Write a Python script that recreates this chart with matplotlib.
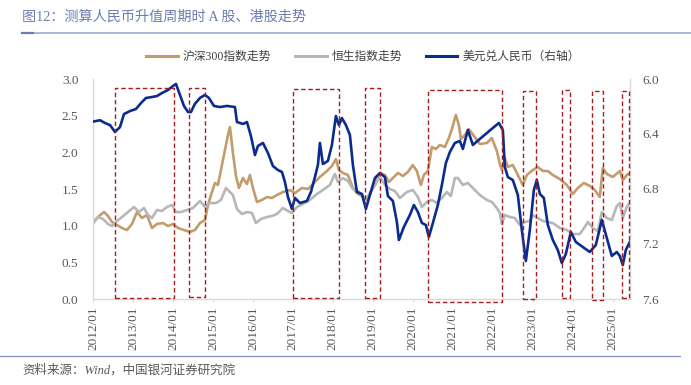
import matplotlib
matplotlib.use("Agg")
import matplotlib.pyplot as plt
from matplotlib.patches import Rectangle
from matplotlib.lines import Line2D
from matplotlib.font_manager import FontProperties
import numpy as np

# ---------------- data ----------------
usd_t = [2012.0, 2012.175, 2012.3, 2012.425, 2012.55, 2012.675, 2012.775, 2012.925, 2013.075, 2013.2,
         2013.325, 2013.475, 2013.6, 2013.725, 2013.875, 2014.0, 2014.075, 2014.175, 2014.275, 2014.375,
         2014.45, 2014.55, 2014.675, 2014.8, 2014.9, 2015.025, 2015.175, 2015.35, 2015.55, 2015.6,
         2015.75, 2015.85, 2015.95, 2016.05, 2016.125, 2016.25, 2016.375, 2016.5, 2016.625, 2016.725,
         2016.8, 2016.875, 2016.975, 2017.05, 2017.175, 2017.35, 2017.45, 2017.55, 2017.625, 2017.675,
         2017.75, 2017.875, 2017.975, 2018.075, 2018.15, 2018.225, 2018.325, 2018.425, 2018.5, 2018.6,
         2018.725, 2018.825, 2018.925, 2019.05, 2019.175, 2019.3, 2019.375, 2019.5, 2019.6, 2019.65,
         2019.775, 2019.925, 2020.025, 2020.125, 2020.225, 2020.325, 2020.4, 2020.5, 2020.625, 2020.725,
         2020.825, 2020.925, 2021.05, 2021.175, 2021.25, 2021.375, 2021.5, 2021.675, 2021.85, 2022.0,
         2022.15, 2022.25, 2022.3, 2022.375, 2022.5, 2022.625, 2022.725, 2022.825, 2022.925, 2023.025,
         2023.1, 2023.175, 2023.275, 2023.375, 2023.5, 2023.625, 2023.725, 2023.825, 2023.95, 2024.075,
         2024.25, 2024.425, 2024.575, 2024.725, 2024.85, 2024.975, 2025.1, 2025.175, 2025.25, 2025.325,
         2025.425]
usd_cny = [6.31, 6.30, 6.32, 6.335, 6.385, 6.35, 6.255, 6.233, 6.218, 6.175,
           6.138, 6.131, 6.124, 6.102, 6.08, 6.051, 6.036, 6.116, 6.196, 6.24,
           6.24, 6.18, 6.138, 6.116, 6.138, 6.196, 6.204, 6.196, 6.204, 6.313,
           6.327, 6.313, 6.415, 6.553, 6.487, 6.465, 6.538, 6.633, 6.662, 6.676,
           6.749, 6.858, 6.945, 6.865, 6.902, 6.887, 6.822, 6.713, 6.625, 6.465,
           6.618, 6.596, 6.48, 6.269, 6.335, 6.284, 6.335, 6.407, 6.625, 6.822,
           6.836, 6.945, 6.844, 6.72, 6.684, 6.713, 6.851, 6.887, 7.04, 7.171,
           7.076, 6.989, 6.916, 6.967, 7.047, 7.062, 7.149, 7.047, 6.916, 6.771,
           6.611, 6.531, 6.465, 6.451, 6.509, 6.371, 6.48, 6.436, 6.393, 6.356,
           6.32, 6.371, 6.64, 6.713, 6.735, 6.844, 7.098, 7.324, 7.098, 6.807,
           6.735, 6.836, 6.865, 7.062, 7.171, 7.244, 7.338, 7.273, 7.113, 7.185,
           7.222, 7.258, 7.207, 7.025, 7.156, 7.287, 7.258, 7.287, 7.353, 7.244,
           7.185]

csi_t = [2012.0, 2012.125, 2012.275, 2012.375, 2012.475, 2012.6, 2012.725, 2012.85, 2012.975, 2013.1,
         2013.225, 2013.35, 2013.475, 2013.6, 2013.75, 2013.875, 2014.0, 2014.125, 2014.275, 2014.425,
         2014.55, 2014.675, 2014.8, 2014.875, 2014.975, 2015.05, 2015.125, 2015.225, 2015.3, 2015.375,
         2015.425, 2015.5, 2015.575, 2015.65, 2015.75, 2015.85, 2015.925, 2016.0, 2016.1, 2016.225,
         2016.35, 2016.475, 2016.6, 2016.75, 2016.925, 2017.05, 2017.225, 2017.375, 2017.5, 2017.675,
         2017.85, 2017.975, 2018.075, 2018.15, 2018.25, 2018.375, 2018.5, 2018.625, 2018.725, 2018.825,
         2018.925, 2019.05, 2019.175, 2019.3, 2019.4, 2019.5, 2019.625, 2019.75, 2019.875, 2020.0,
         2020.1, 2020.2, 2020.275, 2020.375, 2020.475, 2020.575, 2020.675, 2020.8, 2020.9, 2020.975,
         2021.075, 2021.15, 2021.2, 2021.3, 2021.4, 2021.525, 2021.675, 2021.85, 2021.975, 2022.1,
         2022.175, 2022.225, 2022.3, 2022.375, 2022.5, 2022.625, 2022.75, 2022.85, 2023.0, 2023.125,
         2023.25, 2023.375, 2023.5, 2023.675, 2023.85, 2024.0, 2024.125, 2024.275, 2024.425, 2024.55,
         2024.675, 2024.75, 2024.85, 2025.0, 2025.175, 2025.25, 2025.375, 2025.425]
csi300 = [1.05, 1.118, 1.186, 1.132, 1.05, 1.009, 0.968, 0.941, 1.023, 1.186,
          1.105, 1.145, 0.968, 1.023, 1.036, 0.995, 1.023, 0.968, 0.941, 0.914,
          0.941, 1.036, 1.077, 1.282, 1.459, 1.582, 1.555, 1.827, 2.032, 2.236,
          2.345, 1.991, 1.677, 1.514, 1.65, 1.568, 1.691, 1.514, 1.323, 1.35,
          1.391, 1.377, 1.418, 1.459, 1.486, 1.445, 1.514, 1.5, 1.568, 1.664,
          1.745, 1.814, 1.909, 1.759, 1.718, 1.691, 1.514, 1.432, 1.405, 1.35,
          1.432, 1.555, 1.718, 1.691, 1.595, 1.65, 1.718, 1.677, 1.732, 1.827,
          1.745, 1.555, 1.691, 1.745, 2.073, 2.045, 2.1, 2.073, 2.195, 2.318,
          2.509, 2.373, 2.182, 2.236, 2.318, 2.223, 2.114, 2.127, 2.195, 2.018,
          1.841, 1.759, 1.923, 1.8, 1.827, 1.691, 1.555, 1.691, 1.759, 1.8,
          1.745, 1.745, 1.691, 1.636, 1.555, 1.432, 1.514, 1.582, 1.541, 1.486,
          1.391, 1.786, 1.705, 1.664, 1.745, 1.623, 1.705, 1.691]

hsi_t = [2012.0, 2012.125, 2012.25, 2012.375, 2012.475, 2012.6, 2012.725, 2012.875, 2013.025, 2013.15,
         2013.275, 2013.375, 2013.475, 2013.6, 2013.725, 2013.85, 2013.975, 2014.075, 2014.2, 2014.35,
         2014.5, 2014.675, 2014.8, 2014.925, 2015.075, 2015.2, 2015.325, 2015.425, 2015.5, 2015.6,
         2015.725, 2015.85, 2015.975, 2016.075, 2016.2, 2016.35, 2016.475, 2016.6, 2016.75, 2016.875,
         2016.975, 2017.1, 2017.25, 2017.425, 2017.6, 2017.75, 2017.925, 2018.05, 2018.125, 2018.25,
         2018.375, 2018.5, 2018.625, 2018.725, 2018.825, 2018.925, 2019.05, 2019.175, 2019.3, 2019.425,
         2019.55, 2019.675, 2019.85, 2020.0, 2020.125, 2020.225, 2020.35, 2020.475, 2020.6, 2020.725,
         2020.85, 2020.95, 2021.05, 2021.125, 2021.25, 2021.375, 2021.5, 2021.675, 2021.85, 2021.975,
         2022.1, 2022.175, 2022.225, 2022.3, 2022.425, 2022.55, 2022.675, 2022.8, 2022.925, 2023.0,
         2023.125, 2023.25, 2023.375, 2023.5, 2023.675, 2023.85, 2024.0, 2024.175, 2024.3, 2024.375,
         2024.5, 2024.625, 2024.725, 2024.85, 2024.975, 2025.1, 2025.175, 2025.25, 2025.35, 2025.425]
hsi = [1.023, 1.118, 1.091, 1.023, 0.995, 1.064, 1.118, 1.186, 1.255, 1.186,
       1.241, 1.145, 1.105, 1.214, 1.2, 1.255, 1.282, 1.186, 1.186, 1.214,
       1.241, 1.336, 1.255, 1.309, 1.309, 1.35, 1.514, 1.459, 1.418, 1.227,
       1.159, 1.186, 1.173, 1.036, 1.091, 1.118, 1.132, 1.159, 1.241, 1.2,
       1.173, 1.255, 1.295, 1.35, 1.432, 1.486, 1.555, 1.705, 1.595, 1.65,
       1.609, 1.5, 1.473, 1.418, 1.35, 1.445, 1.555, 1.664, 1.555, 1.5,
       1.473, 1.377, 1.459, 1.486, 1.391, 1.255, 1.323, 1.35, 1.309, 1.377,
       1.459, 1.405, 1.65, 1.65, 1.555, 1.582, 1.514, 1.418, 1.35, 1.323,
       1.241, 1.173, 1.023, 1.145, 1.118, 1.105, 1.009, 1.05, 1.064, 1.145,
       1.105, 1.064, 1.05, 1.036, 0.968, 0.941, 0.886, 0.886, 0.982, 1.05,
       0.968, 0.927, 1.186, 1.105, 1.077, 1.268, 1.309, 1.105, 1.255, 1.309]

# RMB appreciation periods (dashed boxes)
period_start = [2012.55, 2014.40, 2017.00, 2018.80, 2020.38, 2022.75, 2023.73, 2024.48, 2025.23]
period_end = [2014.03, 2014.80, 2018.15, 2019.18, 2022.23, 2023.08, 2023.93, 2024.75, 2025.40]
box_top = [2.88, 2.88, 2.86, 2.88, 2.85, 2.84, 2.85, 2.84, 2.84]
box_bottom = [0.01, 0.03, 0.01, 0.01, -0.04, 0.0, 0.01, -0.01, 0.01]

years = list(range(2012, 2026))
year_labels = [f"{y}/01" for y in years]
left_ticks = [0.0, 0.5, 1.0, 1.5, 2.0, 2.5, 3.0]
right_ticks = [6.0, 6.4, 6.8, 7.2, 7.6]

title = "图12：测算人民币升值周期时 A 股、港股走势"
source = "资料来源：Wind，中国银河证券研究院"
names = ["沪深300指数走势", "恒生指数走势", "美元兑人民币（右轴）"]

# ---------------- style ----------------
C_CSI = "#C39C6D"
C_HSI = "#B7B7B7"
C_USD = "#0B2C8E"
C_BOX = "#A31D1D"
C_AX = "#D9D9D9"
C_TXT = "#595959"
C_TITLE = "#6D7DB2"
MIX = ["Liberation Serif", "Noto Sans CJK SC", "DejaVu Sans"]

W, H = 691, 385
fig = plt.figure(figsize=(W / 100, H / 100), dpi=100)
ax = fig.add_axes([93 / W, 1 - 299 / H, (630 - 93) / W, 220 / H])
ax2 = ax.twinx()

l1, = ax.plot(csi_t, csi300, color=C_CSI, lw=1.9, solid_joinstyle="round")
l2, = ax.plot(hsi_t, hsi, color=C_HSI, lw=1.9, solid_joinstyle="round")
l3, = ax2.plot(usd_t, usd_cny, color=C_USD, lw=1.9, solid_joinstyle="round")

for s, e, t, b in zip(period_start, period_end, box_top, box_bottom):
    r = Rectangle((s, b), e - s, t - b, fill=False, edgecolor=C_BOX, lw=1.0,
                  linestyle=(0, (3.2, 2.0)), transform=ax.transData, clip_on=False, zorder=5)
    ax2.add_artist(r)

ax.set_xlim(2012.0, 2025.43)
ax.set_ylim(0, 3.0)
ax2.set_ylim(7.6, 6.0)

ax.set_yticks(left_ticks)
ax.set_yticklabels([f"{v:.1f}" for v in left_ticks])
ax2.set_yticks(right_ticks)
ax2.set_yticklabels([f"{v:.1f}" for v in right_ticks])
ax.set_xticks(years)
ax.set_xticklabels(year_labels, rotation=90)

for lab in ax.get_yticklabels() + ax2.get_yticklabels() + ax.get_xticklabels():
    lab.set_fontfamily("Liberation Serif")
    lab.set_fontsize(9.5)
    lab.set_color(C_TXT)

ax.tick_params(axis="y", length=0, pad=10.5)
ax2.tick_params(axis="y", length=0, pad=9)
ax.tick_params(axis="x", length=2.5, width=0.8, color=C_AX, pad=3)

for sp in ["top", "right"]:
    ax.spines[sp].set_visible(False)
for sp in ["top", "left", "bottom"]:
    ax2.spines[sp].set_visible(False)
ax.spines["left"].set_color(C_AX)
ax.spines["bottom"].set_color(C_AX)
ax2.spines["right"].set_color(C_AX)
for sp in [ax.spines["left"], ax.spines["bottom"], ax2.spines["right"]]:
    sp.set_linewidth(1.0)

# legend
leg = fig.legend([l1, l2, l3], names, loc="center", bbox_to_anchor=(363 / W, 1 - 57 / H),
                 ncol=3, frameon=False, prop=FontProperties(family=MIX, size=8.5),
                 handlelength=2.7, handletextpad=0.4, columnspacing=2.0)
for t in leg.get_texts():
    t.set_color("#404040")
for h in leg.get_lines():
    h.set_linewidth(2.2)

# title and decorations
fig.text(22 / W, 1 - 17 / H, title, fontsize=10.2, color=C_TITLE, ha="left", va="center",
         family=MIX)
fig.add_artist(Line2D([22 / W, 1.0], [1 - 33 / H] * 2, color="#97A5CF", lw=1.1))
fig.add_artist(Line2D([22 / W, 33 / W], [1 - 33 / H] * 2, color=C_TITLE, lw=1.6))
fig.add_artist(Line2D([0, 680 / W], [1 - 356 / H] * 2, color="#8090C2", lw=0.9))
fig.text(22 / W, 1 - 370 / H, source, fontsize=9, color=C_TXT, ha="left", va="center",
         family=MIX, style="italic")

fig.savefig("out.png", dpi=100)
